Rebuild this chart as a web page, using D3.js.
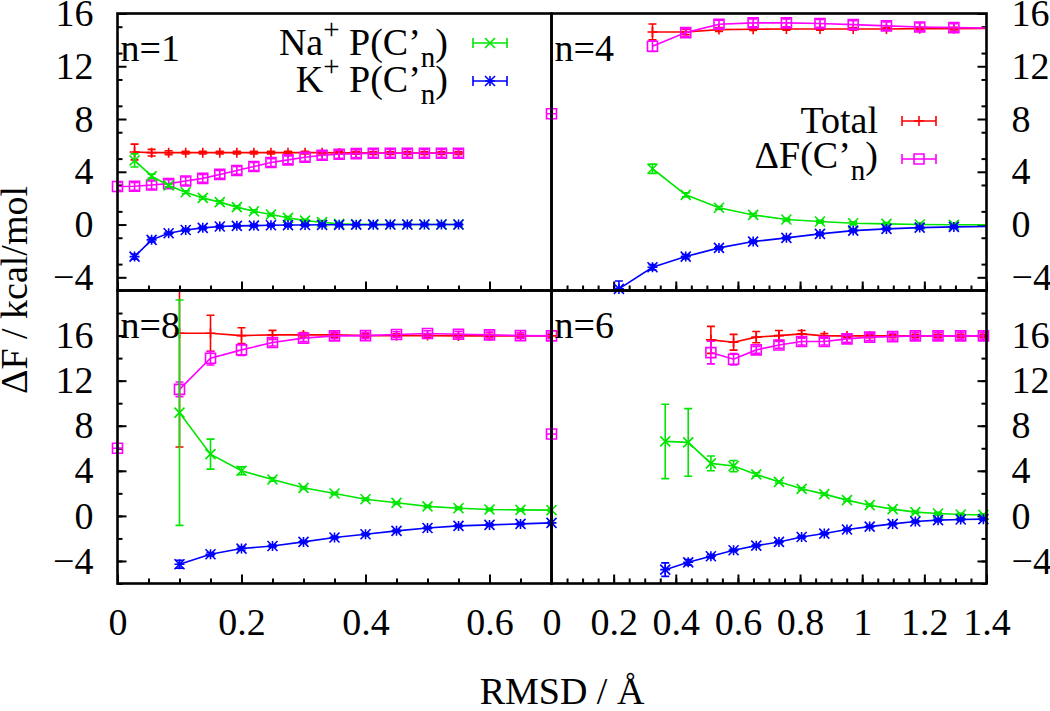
<!DOCTYPE html>
<html>
<head>
<meta charset="utf-8">
<script src="https://cdn.jsdelivr.net/npm/d3@7"></script>
</head>
<body style="margin:0">
<div id="wrapper"></div>
<script>
// ---- data ----
// n=1 (top left)
const n1X        = [0, 0.0275, 0.055, 0.0825, 0.11, 0.1375, 0.165, 0.1925, 0.22, 0.2475, 0.275, 0.3025, 0.33, 0.3575, 0.385, 0.4125, 0.44, 0.4675, 0.495, 0.5225, 0.55]
const n1Total    = [null, 5.5, 5.45, 5.45, 5.45, 5.45, 5.45, 5.45, 5.45, 5.45, 5.45, 5.45, 5.45, 5.43, 5.43, 5.42, 5.42, 5.42, 5.42, 5.42, 5.42]
const n1TotalErr = [null, 0.6, 0.25, 0.15, 0.1, 0.1, 0.1, 0.1, 0.1, 0.1, 0.1, 0.1, 0.1, 0.1, 0.1, 0.1, 0.1, 0.1, 0.1, 0.1, 0.1]
const n1DF       = [2.89, 2.9, 3.0, 3.1, 3.3, 3.5, 3.8, 4.1, 4.4, 4.7, 4.9, 5.1, 5.25, 5.33, 5.38, 5.4, 5.4, 5.4, 5.4, 5.4, 5.4]
const n1DFErr    = [0.3, 0.3, 0.3, 0.3, 0.3, 0.3, 0.3, 0.3, 0.3, 0.3, 0.3, 0.3, 0.3, 0.3, 0.3, 0.3, 0.3, 0.3, 0.3, 0.3, 0.3]
const n1Na       = [null, 4.86, 3.67, 2.96, 2.45, 2.02, 1.70, 1.32, 1.01, 0.76, 0.51, 0.30, 0.18, 0.05, 0.02, 0.01, 0, 0, 0, 0, 0]
const n1NaErr    = [null, 0.5, 0.15, 0.1, 0.1, 0.1, 0.1, 0.1, 0.1, 0.1, 0.1, 0.1, 0.1, 0.1, 0.1, 0.1, 0.1, 0.1, 0.1, 0.1, 0.1]
const n1K        = [null, -2.43, -1.16, -0.66, -0.41, -0.25, -0.15, -0.10, -0.08, -0.05, -0.04, -0.03, -0.02, -0.02, -0.01, -0.01, 0, 0, 0, 0, 0]
const n1KErr     = [null, 0.2, 0.15, 0.1, 0.1, 0.1, 0.1, 0.1, 0.1, 0.1, 0.1, 0.1, 0.1, 0.1, 0.1, 0.1, 0.1, 0.1, 0.1, 0.1, 0.1]

// n=4 (top right)
const n4X        = [0.217, 0.325, 0.432, 0.539, 0.649, 0.756, 0.864, 0.971, 1.078, 1.185, 1.295, 1.51]
const n4Total    = [null, 14.6, 14.6, 14.78, 14.81, 14.83, 14.83, 14.83, 14.83, 14.85, 14.85, 14.87]
const n4TotalErr = [null, 0.6, 0.2, 0.15, 0.1, 0.1, 0.1, 0.1, 0.1, 0.1, 0.1, 0.1]
const n4DF       = [null, 13.52, 14.55, 15.19, 15.29, 15.29, 15.24, 15.16, 15.06, 14.98, 14.93, 14.88]
const n4DFErr    = [null, 0.4, 0.3, 0.3, 0.3, 0.3, 0.3, 0.3, 0.3, 0.3, 0.3, 0.3]
const n4Na       = [null, 4.23, 2.25, 1.27, 0.73, 0.38, 0.23, 0.10, 0.05, 0.0, -0.02, 0.0]
const n4NaErr    = [null, 0.35, 0.15, 0.1, 0.1, 0.1, 0.1, 0.1, 0.1, 0.1, 0.1, 0.1]
const n4K        = [-4.88, -3.24, -2.43, -1.77, -1.29, -1.01, -0.71, -0.46, -0.33, -0.23, -0.18, -0.12]
const n4KErr     = [0.6, 0.2, 0.15, 0.1, 0.1, 0.1, 0.1, 0.1, 0.1, 0.1, 0.1, 0.1]
const n4ZeroDF   = 8.4

// n=8 (bottom left)
const n8X        = [0.1, 0.15, 0.2, 0.25, 0.3, 0.35, 0.4, 0.45, 0.5, 0.55, 0.6, 0.65, 0.7]
const n8Total    = [16.21, 16.21, 16.0, 16.06, 16.06, 16.06, 16.0, 16.0, 16.0, 15.97, 15.97, 15.97, 15.97]
const n8TotalErr = [10.1, 1.6, 0.7, 0.4, 0.2, 0.2, 0.15, 0.15, 0.15, 0.15, 0.15, 0.15, 0.15]
const n8DF       = [11.23, 13.99, 14.73, 15.38, 15.77, 15.97, 16.0, 16.09, 16.18, 16.12, 16.06, 16.0, 15.97]
const n8DFErr    = [0.65, 0.6, 0.5, 0.3, 0.3, 0.25, 0.25, 0.25, 0.25, 0.25, 0.25, 0.25, 0.25]
const n8Na       = [9.16, 5.48, 4.0, 3.23, 2.49, 1.99, 1.48, 1.16, 0.84, 0.68, 0.57, 0.53, 0.51]
const n8NaErr    = [10.0, 1.33, 0.35, 0.15, 0.1, 0.1, 0.1, 0.1, 0.1, 0.1, 0.1, 0.1, 0.1]
const n8K        = [-4.29, -3.40, -2.90, -2.67, -2.31, -1.92, -1.63, -1.33, -1.07, -0.89, -0.80, -0.71, -0.62]
const n8KErr     = [0.35, 0.15, 0.15, 0.1, 0.1, 0.1, 0.1, 0.1, 0.1, 0.1, 0.1, 0.1, 0.1]
const n8ZeroDF   = 6.0

// n=6 (bottom right)
const n6X        = [0.366, 0.44, 0.513, 0.586, 0.659, 0.732, 0.805, 0.878, 0.951, 1.024, 1.098, 1.171, 1.244, 1.317, 1.39]
const n6Total    = [null, null, 15.62, 15.41, 15.86, 16.0, 16.15, 15.97, 15.97, 15.97, 15.97, 15.97, 15.97, 15.97, 15.97]
const n6TotalErr = [null, null, 1.2, 0.7, 0.5, 0.45, 0.3, 0.2, 0.15, 0.15, 0.15, 0.15, 0.15, 0.15, 0.15]
const n6DF       = [null, null, 14.49, 13.90, 14.73, 15.17, 15.47, 15.47, 15.71, 15.86, 15.91, 15.97, 15.97, 15.97, 15.97]
const n6DFErr    = [null, null, 1.0, 0.5, 0.3, 0.3, 0.3, 0.3, 0.3, 0.3, 0.3, 0.3, 0.3, 0.3, 0.3]
const n6Na       = [6.61, 6.52, 4.66, 4.42, 3.68, 3.02, 2.40, 1.93, 1.40, 0.95, 0.60, 0.33, 0.21, 0.12, 0.09]
const n6NaErr    = [3.3, 3.0, 0.65, 0.5, 0.15, 0.1, 0.1, 0.1, 0.1, 0.1, 0.1, 0.1, 0.1, 0.1, 0.1]
const n6K        = [-4.77, -4.12, -3.58, -3.05, -2.64, -2.31, -1.87, -1.57, -1.21, -0.95, -0.71, -0.50, -0.38, -0.32, -0.29]
const n6KErr     = [0.6, 0.25, 0.15, 0.1, 0.1, 0.1, 0.1, 0.1, 0.1, 0.1, 0.1, 0.1, 0.1, 0.1, 0.1]
const n6ZeroDF   = 7.26

// ticks
const xTicksLeft  = [0, 0.2, 0.4, 0.6]
const xTicksRight = [0, 0.2, 0.4, 0.6, 0.8, 1, 1.2, 1.4]
const yTicks      = [-4, 0, 4, 8, 12, 16]

const fontSize = 38
const fontFace = '"Liberation Serif", serif'

async function drawChart() {
  // make sure the serif face is ready before any text is laid out
  try { await document.fonts.load(`${fontSize}px "Liberation Serif"`) } catch (e) {}

  const width = 1050
  const height = 711
  const frame = { left: 117.5, mid: 551.5, right: 986.5, top: 13.5, midY: 290.5, bottom: 583.5 }

  const colors = { total: '#ff0000', dF: '#ff00ff', na: '#00e600', k: '#0000ff' }

  const panels = [
    { name: 'n=1', col: 0, row: 0, x: n1X, zeroDF: null,
      series: { total: [n1Total, n1TotalErr], dF: [n1DF, n1DFErr], na: [n1Na, n1NaErr], k: [n1K, n1KErr] } },
    { name: 'n=4', col: 1, row: 0, x: n4X, zeroDF: n4ZeroDF,
      series: { total: [n4Total, n4TotalErr], dF: [n4DF, n4DFErr], na: [n4Na, n4NaErr], k: [n4K, n4KErr] } },
    { name: 'n=8', col: 0, row: 1, x: n8X, zeroDF: n8ZeroDF,
      series: { total: [n8Total, n8TotalErr], dF: [n8DF, n8DFErr], na: [n8Na, n8NaErr], k: [n8K, n8KErr] } },
    { name: 'n=6', col: 1, row: 1, x: n6X, zeroDF: n6ZeroDF,
      series: { total: [n6Total, n6TotalErr], dF: [n6DF, n6DFErr], na: [n6Na, n6NaErr], k: [n6K, n6KErr] } },
  ]

  const markerOf = { total: 'plus', dF: 'square', na: 'cross', k: 'star' }
  const drawOrder = ['total', 'dF', 'na', 'k']

  function markerPath(type, x, y) {
    const s = 5
    const plus = `M${x - s},${y}H${x + s}M${x},${y - s}V${y + s}`
    const cross = `M${x - s},${y - s}L${x + s},${y + s}M${x - s},${y + s}L${x + s},${y - s}`
    if (type === 'plus') return plus
    if (type === 'cross') return cross
    if (type === 'star') return plus + cross
    return `M${x - s},${y - s}H${x + s}V${y + s}H${x - s}Z`
  }

  const svg = d3.select('#wrapper').append('svg')
    .attr('width', width)
    .attr('height', height)
    .style('display', 'block')

  panels.forEach((p, idx) => {
    const x0 = p.col === 0 ? frame.left : frame.mid
    const x1 = p.col === 0 ? frame.mid : frame.right
    const y0 = p.row === 0 ? frame.top : frame.midY
    const y1 = p.row === 0 ? frame.midY : frame.bottom

    const xScale = d3.scaleLinear()
      .domain(p.col === 0 ? [0, 0.7] : [0, 1.4])
      .range([x0, x1])
    const yScale = d3.scaleLinear()
      .domain(p.row === 0 ? [-5, 16] : [-6, 20])
      .range([y1, y0])

    const g = svg.append('g')

    svg.append('clipPath').attr('id', 'clip' + idx)
      .append('rect')
      .attr('x', x0).attr('y', y0)
      .attr('width', x1 - x0).attr('height', y1 - y0)

    // axes (ticks point inwards)
    const xMajor = p.col === 0 ? xTicksLeft : xTicksRight
    const xMinor = d3.range(0, xScale.domain()[1] + 1e-9, 0.05)
    const yMinor = d3.range(yScale.domain()[0], yScale.domain()[1] + 1e-9, 2)

    const xAxisMinor = g.append('g')
      .attr('transform', `translate(0,${y1})`)
      .call(d3.axisBottom(xScale).tickValues(xMinor).tickSizeInner(-5).tickSizeOuter(0).tickFormat(''))
    const xAxis = g.append('g')
      .attr('transform', `translate(0,${y1})`)
      .call(d3.axisBottom(xScale).tickValues(xMajor).tickSizeInner(-9).tickSizeOuter(0).tickPadding(25)
        .tickFormat(p.row === 1 ? d3.format('~g') : ''))

    const yAxisGen = p.col === 0 ? d3.axisLeft(yScale) : d3.axisRight(yScale)
    const yAxisMinor = g.append('g')
      .attr('transform', `translate(${p.col === 0 ? x0 : x1},0)`)
      .call((p.col === 0 ? d3.axisLeft(yScale) : d3.axisRight(yScale))
        .tickValues(yMinor).tickSizeInner(-5).tickSizeOuter(0).tickFormat(''))
    const yAxis = g.append('g')
      .attr('transform', `translate(${p.col === 0 ? x0 : x1},0)`)
      .call(yAxisGen.tickValues(yTicks).tickSizeInner(-9).tickSizeOuter(0).tickPadding(p.col === 0 ? 24 : 25)
        .tickFormat(d3.format('~g')))

    ;[xAxisMinor, xAxis, yAxisMinor, yAxis].forEach(a => {
      a.select('.domain').remove()
      a.selectAll('line').attr('stroke', '#000').attr('stroke-width', 2)
      a.attr('font-size', fontSize).attr('font-family', null)
      a.selectAll('text').attr('fill', '#000')
    })

    // series
    drawOrder.forEach(key => {
      const [ys, errs] = p.series[key]
      const pts = p.x.map((x, i) => ({ x: x, y: ys[i], e: errs[i] })).filter(d => d.y != null)
      const color = colors[key]

      g.append('path')
        .datum(pts)
        .attr('clip-path', `url(#clip${idx})`)
        .attr('fill', 'none')
        .attr('stroke', color)
        .attr('stroke-width', 1.6)
        .attr('d', d3.line().x(d => xScale(d.x)).y(d => yScale(d.y)))

      g.append('g')
        .attr('clip-path', `url(#clip${idx})`)
        .selectAll('path')
        .data(pts)
        .enter().append('path')
        .attr('fill', 'none')
        .attr('stroke', color)
        .attr('stroke-width', 1.6)
        .attr('d', d => {
          const cx = xScale(d.x)
          const ya = yScale(d.y + d.e)
          const yb = yScale(d.y - d.e)
          return `M${cx},${ya}V${yb}M${cx - 4},${ya}H${cx + 4}M${cx - 4},${yb}H${cx + 4}`
        })

      const xd = xScale.domain()
      g.append('g')
        .selectAll('path')
        .data(pts.filter(d => d.x >= xd[0] && d.x <= xd[1]))
        .enter().append('path')
        .attr('fill', 'none')
        .attr('stroke', color)
        .attr('stroke-width', 1.6)
        .attr('d', d => markerPath(markerOf[key], xScale(d.x), yScale(d.y)))
    })

    // lone ΔF point at RMSD = 0
    if (p.zeroDF != null) {
      const cx = xScale(0)
      const cy = yScale(p.zeroDF)
      g.append('path')
        .attr('fill', 'none')
        .attr('stroke', colors.dF)
        .attr('stroke-width', 1.6)
        .attr('d', markerPath('square', cx, cy) + `M${cx - 5},${cy}H${cx + 5}M${cx},${cy - 5}V${cy + 5}`)
    }

    // frame
    g.append('rect')
      .attr('x', x0).attr('y', y0)
      .attr('width', x1 - x0).attr('height', y1 - y0)
      .attr('fill', 'none')
      .attr('stroke', '#000')
      .attr('stroke-width', 2.6)

    // panel label
    g.append('text')
      .attr('x', x0 + 3)
      .attr('y', y0 + 47)
      .attr('font-size', fontSize)
      .text(p.name)
  })

  // ---- legends ----
  function legendSample(x, y, color, marker) {
    svg.append('path')
      .attr('fill', 'none')
      .attr('stroke', color)
      .attr('stroke-width', 1.6)
      .attr('d', `M${x},${y}H${x + 34}M${x},${y - 5}V${y + 5}M${x + 34},${y - 5}V${y + 5}`)
    svg.append('path')
      .attr('fill', 'none')
      .attr('stroke', color)
      .attr('stroke-width', 1.6)
      .attr('d', markerPath(marker, x + 17, y))
  }

  function ionLabel(ion, xEnd, y) {
    const t = svg.append('text')
      .attr('x', xEnd).attr('y', y)
      .attr('text-anchor', 'end')
      .attr('font-size', fontSize)
    t.append('tspan').text(ion)
    t.append('tspan').attr('font-size', 29).attr('dy', -16).text('+')
    t.append('tspan').attr('dy', 16).text(' P(C\u2019')
    t.append('tspan').attr('font-size', 29).attr('dy', 12).text('n')
    t.append('tspan').attr('dy', -12).text(')')
  }

  ionLabel('Na', 448, 55)
  ionLabel('K', 448, 92)
  legendSample(473, 43, colors.na, 'cross')
  legendSample(473, 81, colors.k, 'star')

  svg.append('text')
    .attr('x', 878).attr('y', 133)
    .attr('text-anchor', 'end')
    .attr('font-size', fontSize)
    .text('Total')
  const dfLabel = svg.append('text')
    .attr('x', 878).attr('y', 168)
    .attr('text-anchor', 'end')
    .attr('font-size', fontSize)
  dfLabel.append('tspan').text('\u0394F(C\u2019')
  dfLabel.append('tspan').attr('font-size', 29).attr('dy', 12).text('n')
  dfLabel.append('tspan').attr('dy', -12).text(')')
  legendSample(902, 121, colors.total, 'plus')
  legendSample(902, 159, colors.dF, 'square')

  // ---- axis titles ----
  svg.append('text')
    .attr('x', 562).attr('y', 704)
    .attr('text-anchor', 'middle')
    .attr('font-size', fontSize)
    .text('RMSD / \u00c5')

  svg.append('text')
    .attr('transform', 'translate(27,290) rotate(-90)')
    .attr('text-anchor', 'middle')
    .attr('font-size', fontSize)
    .text('\u0394F / kcal/mol')

  // serif face on every text element
  svg.selectAll('text').style('font-family', d => '"Liberation Serif"')
}
drawChart()
</script>
</body>
</html>
